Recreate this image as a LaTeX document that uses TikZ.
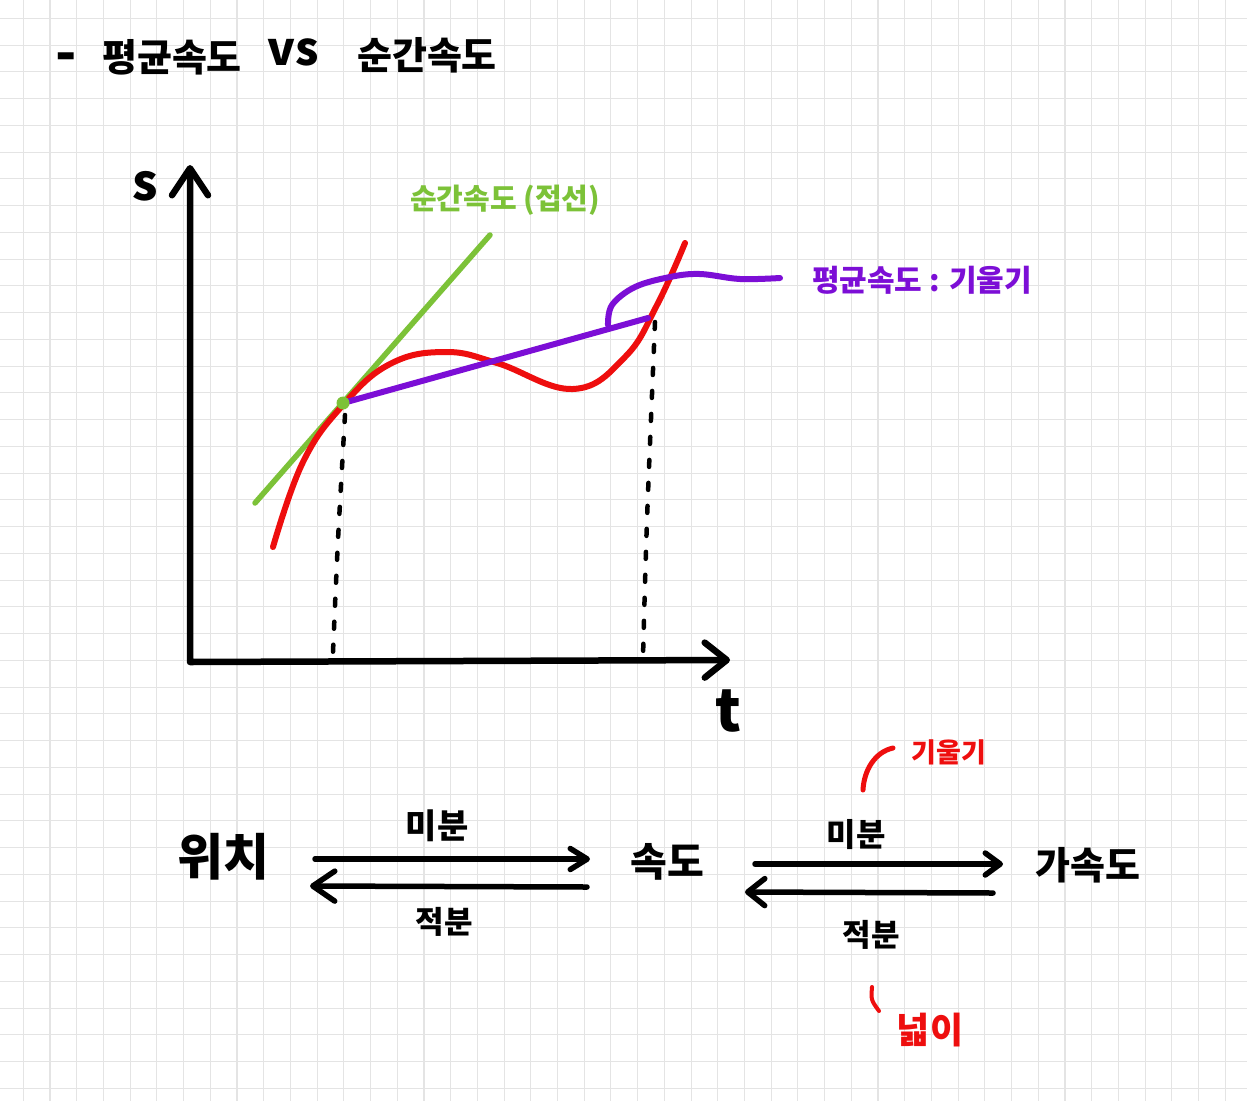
\documentclass[tikz,border=0pt]{standalone}
\usepackage{fontspec}
\newfontfamily\kr{Noto Sans CJK KR}
\usetikzlibrary{arrows.meta}
\definecolor{gridc}{RGB}{228,228,228}
\definecolor{pred}{RGB}{238,14,14}
\definecolor{pgreen}{RGB}{124,194,56}
\definecolor{ppurple}{RGB}{124,14,214}
\begin{document}
\begin{tikzpicture}[x=1pt,y=-1pt,
  gridline/.style={draw=gridc, line width=1.1pt},
  hw/.style={inner sep=0pt, anchor=center, font=\kr\bfseries\fontsize{#1}{#1}\selectfont},
  axisline/.style={line width=6.5pt, line cap=round, line join=round},
  redc/.style={draw=pred, line width=6pt, line cap=round},
  greenc/.style={draw=pgreen, line width=5.5pt, line cap=round},
  purplec/.style={draw=ppurple, line width=6pt, line cap=round},
  dotc/.style={line width=4.5pt, line cap=round, dash pattern=on 7pt off 16pt},
  flow/.style={line width=5.5pt, line cap=round},
]
\useasboundingbox (0,0) rectangle (1247,1101);
\fill[white] (0,0) rectangle (1247,1101);
\foreach \i in {0,...,46} \draw[gridline] ({23.3+\i*26.71},0) -- ({23.3+\i*26.71},1101);
\foreach \j in {0,...,40} \draw[gridline] (0,{18.3+\j*26.75}) -- (1247,{18.3+\j*26.75});

% title
\node[hw=56] (dash) at (66,63) {-};
\node[hw=38] (t1) at (172,57) {평균속도};
\node[hw=46] (vs) at (293,52) {vs};
\node[hw=38] (t2) at (427,55) {순간속도};

% axes
\coordinate (o) at (190,662);
\coordinate (ytop) at (190,165);
\coordinate (xend) at (730,660);
\draw[axisline, arrows={Straight Barb[length=27pt,width=36pt,round]-Straight Barb[length=22pt,width=35pt,round]}] (ytop) -- (o) -- (xend);
\node[hw=50] (s) at (145,186) {s};
\node[hw=58] (t) at (728,711) {t};

% dotted drop lines
\draw[dotc] plot[smooth] coordinates {(345,415) (338,540) (333,652)};
\draw[dotc] plot[smooth] coordinates {(655,322) (647,520) (643,657)};

% tangent
\draw[greenc] (255,503) -- (490,235);
% red curve
\draw[redc] plot[smooth, tension=0.7] coordinates {(273,547) (303,462) (343,405) (390,364) (445,352) (497,363) (573,389) (625,357) (657,305) (685,243)};
% chord
\draw[purplec] (343,403) -- (648,318);
\fill[pgreen] (343,403) circle[radius=6.5pt];
% purple annotation stroke
\draw[purplec] plot[smooth, tension=0.6] coordinates {(608,325) (612,305) (635,287) (670,277) (700,274) (740,279) (780,278)};

% labels of graph
\node[hw=29, text=pgreen] (tanlbl) at (505,200) {순간속도 (접선)};
\node[hw=30, text=ppurple] (avglbl) at (922,280) {평균속도 : 기울기};

% bottom flow
\node[hw=50] (pos) at (223,857) {위치};
\node[hw=40] (vel) at (667,862) {속도};
\node[hw=38] (acc) at (1088,865) {가속도};

\coordinate (a1s) at (315,859); \coordinate (a1e) at (590,859);
\coordinate (b1s) at (587,887); \coordinate (b1e) at (310,886);
\coordinate (a2s) at (755,864); \coordinate (a2e) at (1003,864);
\coordinate (b2s) at (993,893); \coordinate (b2e) at (745,892);
\draw[flow, -{Straight Barb[length=17pt,width=21pt,round]}] (a1s) -- (a1e);
\draw[flow, -{Straight Barb[length=22pt,width=30pt,round]}] (b1s) -- (b1e);
\draw[flow, -{Straight Barb[length=15pt,width=22pt,round]}] (a2s) -- (a2e);
\draw[flow, -{Straight Barb[length=17pt,width=27pt,round]}] (b2s) -- (b2e);

\node[hw=34] (d1) at (437,826) {미분};
\node[hw=31] (i1) at (444,922) {적분};
\node[hw=32] (d2) at (856,835) {미분};
\node[hw=31] (i2) at (871,935) {적분};

% red notes
\node[hw=27, text=pred] (slope) at (949,752) {기울기};
\node[hw=36, text=pred] (area) at (930,1030) {넓이};
\draw[redc, line width=5pt] (863,790) .. controls (864,770) and (875,752) .. (893,748);
\draw[redc, line width=4pt] (872,987) .. controls (871,1000) .. (879,1011);
\end{tikzpicture}
\end{document}
